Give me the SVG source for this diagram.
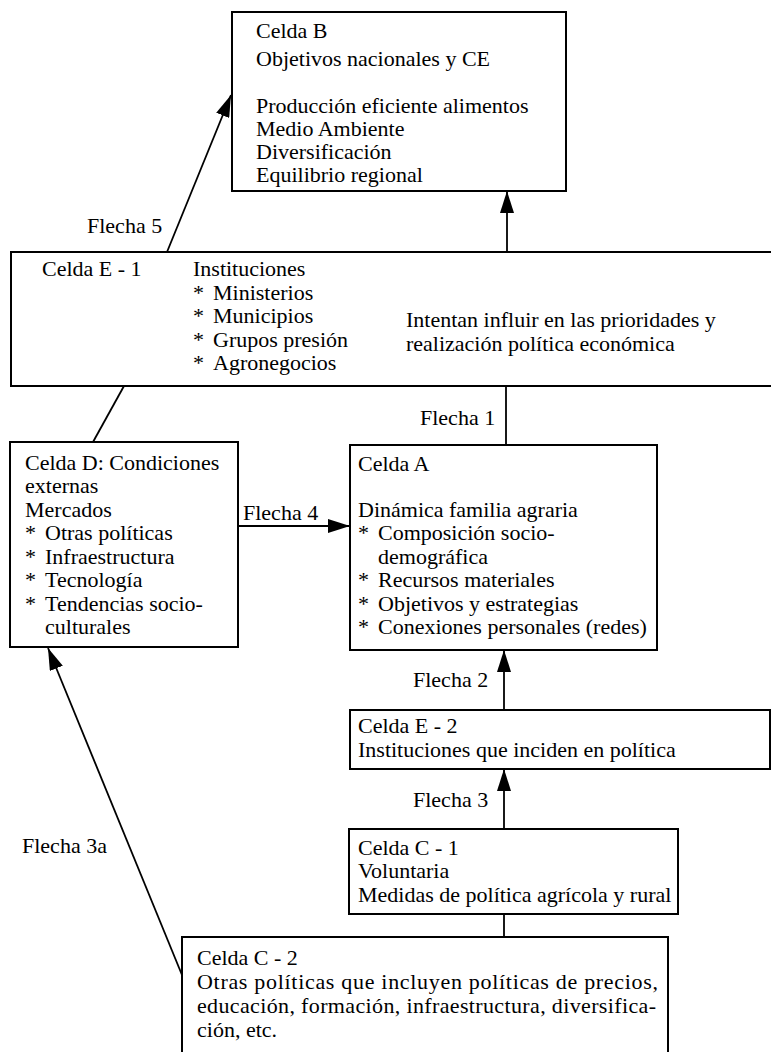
<svg xmlns="http://www.w3.org/2000/svg" width="771" height="1052" viewBox="0 0 771 1052">
<style>
text{font-family:"Liberation Serif","Times New Roman",serif;font-size:22px;fill:#000}
.box{fill:#fff;stroke:#000;stroke-width:2}
.ln{fill:none;stroke:#000;stroke-width:1.8}
.arr{marker-end:url(#ah)}
</style>
<defs>
<marker id="ah" markerUnits="userSpaceOnUse" markerWidth="23" markerHeight="14" refX="22" refY="7" orient="auto">
<path d="M0,0 L22,7 L0,14 Z" fill="#000"/>
</marker>
</defs>
<rect width="771" height="1052" fill="#fff"/>
<g id="connectors">
<line class="ln arr" x1="167" y1="252" x2="231" y2="95"/>
<line class="ln arr" x1="507" y1="252" x2="507" y2="191"/>
<line class="ln" x1="506" y1="386" x2="506" y2="445"/>
<line class="ln" x1="124" y1="386" x2="93" y2="442"/>
<line class="ln arr" x1="238" y1="526" x2="350" y2="526"/>
<line class="ln arr" x1="504" y1="710" x2="504" y2="650"/>
<line class="ln arr" x1="504" y1="829" x2="504" y2="769"/>
<line class="ln" x1="504" y1="937" x2="504" y2="914"/>
<line class="ln arr" x1="182" y1="975" x2="48" y2="648"/>
<text x="87" y="233">Flecha 5</text>
<text x="420" y="425">Flecha 1</text>
<text x="243" y="520">Flecha 4</text>
<text x="413" y="687">Flecha 2</text>
<text x="413" y="807">Flecha 3</text>
<text x="22" y="853">Flecha 3a</text>
</g>
<g id="celdaB">
<rect class="box" x="232" y="12" width="334" height="179"/>
<text x="256" y="38">Celda B</text>
<text x="256" y="66">Objetivos nacionales y CE</text>
<text x="256" y="113">Producción eficiente alimentos</text>
<text x="256" y="136">Medio Ambiente</text>
<text x="256" y="159">Diversificación</text>
<text x="256" y="182">Equilibrio regional</text>
</g>
<g id="celdaE1">
<rect class="box" x="11" y="252" width="770" height="134"/>
<text x="42" y="276">Celda E - 1</text>
<text x="193" y="276">Instituciones</text>
<text x="193" y="300">*</text><text x="213" y="300">Ministerios</text>
<text x="193" y="323">*</text><text x="213" y="323">Municipios</text>
<text x="193" y="347">*</text><text x="213" y="347">Grupos presión</text>
<text x="193" y="370">*</text><text x="213" y="370">Agronegocios</text>
<text x="406" y="327">Intentan influir en las prioridades y</text>
<text x="406" y="351">realización política económica</text>
</g>
<g id="celdaD">
<rect class="box" x="10" y="442" width="228" height="205"/>
<text x="25" y="470">Celda D: Condiciones</text>
<text x="25" y="493">externas</text>
<text x="25" y="517">Mercados</text>
<text x="25" y="540">*</text><text x="45" y="540">Otras políticas</text>
<text x="25" y="564">*</text><text x="45" y="564">Infraestructura</text>
<text x="25" y="587">*</text><text x="45" y="587">Tecnología</text>
<text x="25" y="611">*</text><text x="45" y="611">Tendencias socio-</text>
<text x="45" y="634">culturales</text>
</g>
<g id="celdaA">
<rect class="box" x="350" y="445" width="307" height="205"/>
<text x="358" y="471">Celda A</text>
<text x="358" y="517">Dinámica familia agraria</text>
<text x="358" y="540">*</text><text x="378" y="540">Composición socio-</text>
<text x="378" y="564">demográfica</text>
<text x="358" y="587">*</text><text x="378" y="587">Recursos materiales</text>
<text x="358" y="611">*</text><text x="378" y="611">Objetivos y estrategias</text>
<text x="358" y="634">*</text><text x="378" y="634">Conexiones personales (redes)</text>
</g>
<g id="celdaE2">
<rect class="box" x="350" y="710" width="420" height="59"/>
<text x="358" y="733">Celda E - 2</text>
<text x="358" y="757">Instituciones que inciden en política</text>
</g>
<g id="celdaC1">
<rect class="box" x="349" y="829" width="329" height="85"/>
<text x="358" y="855">Celda C - 1</text>
<text x="358" y="878">Voluntaria</text>
<text x="358" y="902">Medidas de política agrícola y rural</text>
</g>
<g id="celdaC2">
<rect class="box" x="182" y="937" width="486" height="130"/>
<text x="197" y="965">Celda C - 2</text>
<text x="197" y="989" textLength="461" lengthAdjust="spacing">Otras políticas que incluyen políticas de precios,</text>
<text x="197" y="1013" textLength="459" lengthAdjust="spacing">educación, formación, infraestructura, diversifica-</text>
<text x="197" y="1037">ción, etc.</text>
</g>
</svg>
